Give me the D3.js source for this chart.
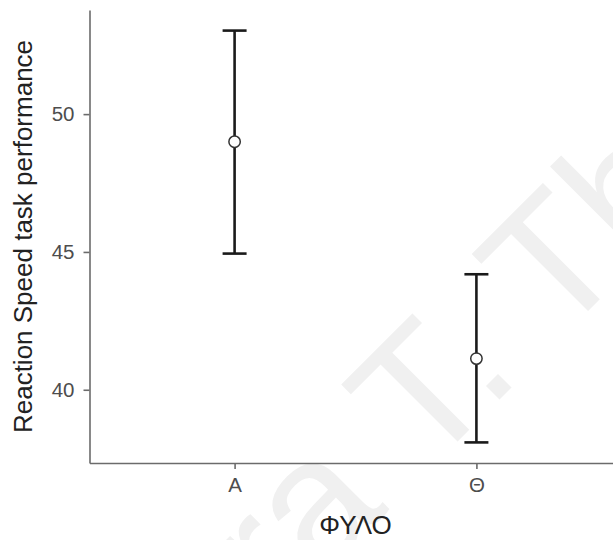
<!DOCTYPE html>
<html>
<head>
<meta charset="utf-8">
<script src="https://cdn.jsdelivr.net/npm/d3@7"></script>
<style>
    body { margin: 0; background: #fff; }
    text { font-family: "Liberation Sans", Arial, sans-serif; }
</style>
</head>
<body>
<div id="chart"></div>
<script>
// data
const groups = ["Α", "Θ"];
const means = [49.0, 41.13];
const lower = [44.94, 38.09];
const upper = [53.03, 44.19];
const yTicks = [40, 45, 50];
const xTitle = "ΦΥΛΟ";
const yTitle = "Reaction Speed task performance";

let width = 613,
    height = 540,
    plotLeft = 89.5,
    plotTop = 10,
    plotBottom = 463,
    plotRight = 621.5;

const svg = d3.select("#chart").append("svg")
    .attr("width", width)
    .attr("height", height);

// faint watermark behind the plot
const wm = svg.append("g")
    .attr("transform", "translate(425,474) rotate(-45)")
    .style("font-size", "178px")
    .style("fill", "#f0f0f0");
wm.append("text").attr("x", -50).attr("text-anchor", "end").text("ra");
wm.append("text").attr("x", 0).text("T. Th");

// ggplot-like 5% expansion
let lo = d3.min(lower), hi = d3.max(upper);
let pad = (hi - lo) * 0.05;

const y = d3.scaleLinear()
    .domain([lo - pad, hi + pad])
    .range([plotBottom, plotTop]);

const x = d3.scalePoint()
    .domain(groups)
    .range([plotLeft, plotRight])
    .padding(0.6);

// axes
const yAxis = svg.append("g")
    .attr("transform", `translate(${plotLeft},0)`)
    .call(d3.axisLeft(y).tickValues(yTicks).tickSizeInner(6).tickSizeOuter(0).tickPadding(9));

const xAxis = svg.append("g")
    .attr("transform", `translate(0,${plotBottom})`)
    .call(d3.axisBottom(x).tickSizeInner(6).tickSizeOuter(0).tickPadding(8));

[yAxis, xAxis].forEach(a => {
    a.select(".domain").attr("stroke", "#6b6b6b").attr("stroke-width", 1.6);
    a.selectAll(".tick line").attr("stroke", "#6b6b6b").attr("stroke-width", 1.6);
    a.selectAll(".tick text")
        .style("font-size", "20.5px")
        .style("font-family", "'Liberation Sans', Arial, sans-serif")
        .attr("fill", "#4d4d4d");
});

// error bars
const bars = svg.append("g")
    .selectAll("g")
    .data(groups)
    .enter().append("g");

bars.append("line")
    .attr("x1", d => x(d))
    .attr("x2", d => x(d))
    .attr("y1", (d, i) => y(lower[i]))
    .attr("y2", (d, i) => y(upper[i]))
    .attr("stroke", "#1a1a1a")
    .attr("stroke-width", 2.6);

bars.selectAll(".cap")
    .data((d, i) => [lower[i], upper[i]].map(v => ({g: d, v: v})))
    .enter().append("line")
    .attr("class", "cap")
    .attr("x1", d => x(d.g) - 12)
    .attr("x2", d => x(d.g) + 12)
    .attr("y1", d => y(d.v))
    .attr("y2", d => y(d.v))
    .attr("stroke", "#1a1a1a")
    .attr("stroke-width", 2.6);

bars.append("circle")
    .attr("cx", d => x(d))
    .attr("cy", (d, i) => y(means[i]))
    .attr("r", 5.7)
    .attr("fill", "#fff")
    .attr("stroke", "#333")
    .attr("stroke-width", 1.5);

// titles
svg.append("text")
    .attr("x", (plotLeft + plotRight) / 2)
    .attr("y", 534)
    .attr("text-anchor", "middle")
    .style("font-size", "26px")
    .style("fill", "#222")
    .text(xTitle);

svg.append("text")
    .attr("transform", `translate(32,${(plotTop + plotBottom) / 2}) rotate(-90)`)
    .attr("text-anchor", "middle")
    .style("font-size", "26px")
    .style("fill", "#222")
    .text(yTitle);
</script>
</body>
</html>
